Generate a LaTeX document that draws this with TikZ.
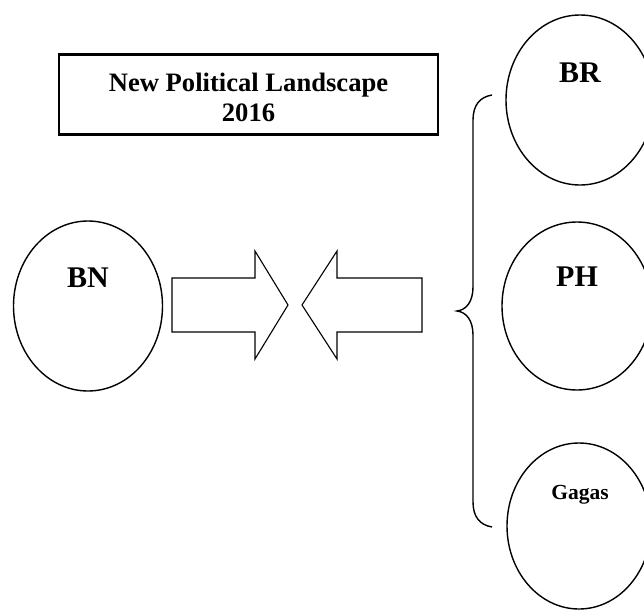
\documentclass[tikz,border=0pt]{standalone}
\usepackage{fontspec}
\setmainfont{Liberation Serif}
\usetikzlibrary{shapes.geometric}
\begin{document}
\begin{tikzpicture}[x=1pt,y=-1pt,
  party/.style={draw, ellipse, inner sep=0pt, line width=1.4pt},
  biglbl/.style={font=\bfseries\fontsize{30}{32}\selectfont, inner sep=0pt, anchor=base},
  smalllbl/.style={font=\bfseries\fontsize{21.5}{24}\selectfont, inner sep=0pt, anchor=base},
  titlebox/.style={draw, line width=1.2pt, inner sep=0pt},
  titletext/.style={font=\bfseries\fontsize{26.6}{30}\selectfont, inner sep=0pt, align=center, anchor=base},
  blockarrow/.style={draw, line width=1.1pt, line join=miter},
  bracestyle/.style={draw, line width=1.4pt}]
\useasboundingbox (0,0) rectangle (644,610);
% title
\node[titlebox, minimum width=379pt, minimum height=79pt] (title) at (248.5,94.5) {};
\draw[line width=2pt] (title.north west) -- (title.north east);
\draw[line width=2pt] (title.south west) -- (title.south east);
\node[titletext] (t1) at (248.5,91) {New Political Landscape};
\node[titletext] (t2) at (248.5,121) {2016};
% BN
\node[party, minimum width=149pt, minimum height=170pt] (bn) at (88,306) {};
\node[biglbl] (bnl) at (88,287) {BN};
% right arrow
\coordinate (ra1) at (172,278);
\draw[blockarrow] (ra1) -- (255,278) -- (255,251) -- (288,305) -- (255,359) -- (255,332) -- (172,332) -- cycle;
% left arrow
\coordinate (la1) at (422,278);
\draw[blockarrow] (la1) -- (337,278) -- (337,251) -- (302,305) -- (337,359) -- (337,332) -- (422,332) -- cycle;
% brace
\coordinate (bt) at (492,95);
\coordinate (bm) at (457,311);
\coordinate (bb) at (492,527);
\draw[bracestyle] (bt) .. controls (480,97) and (473,105) .. (473,120)
  -- (473,287) .. controls (473,302) and (466,310) .. (bm)
  .. controls (466,312) and (473,320) .. (473,335)
  -- (473,502) .. controls (473,517) and (480,525) .. (bb);
% BR
\node[party, minimum width=148pt, minimum height=170pt] (br) at (580,100) {};
\node[biglbl] (brl) at (580,82) {BR};
% PH
\node[party, minimum width=150pt, minimum height=168pt] (ph) at (577,306) {};
\node[biglbl] (phl) at (577,286) {PH};
% Gagas
\node[party, minimum width=144pt, minimum height=166pt] (gg) at (579,526) {};
\node[smalllbl] (ggl) at (580,499) {Gagas};
\end{tikzpicture}
\end{document}
